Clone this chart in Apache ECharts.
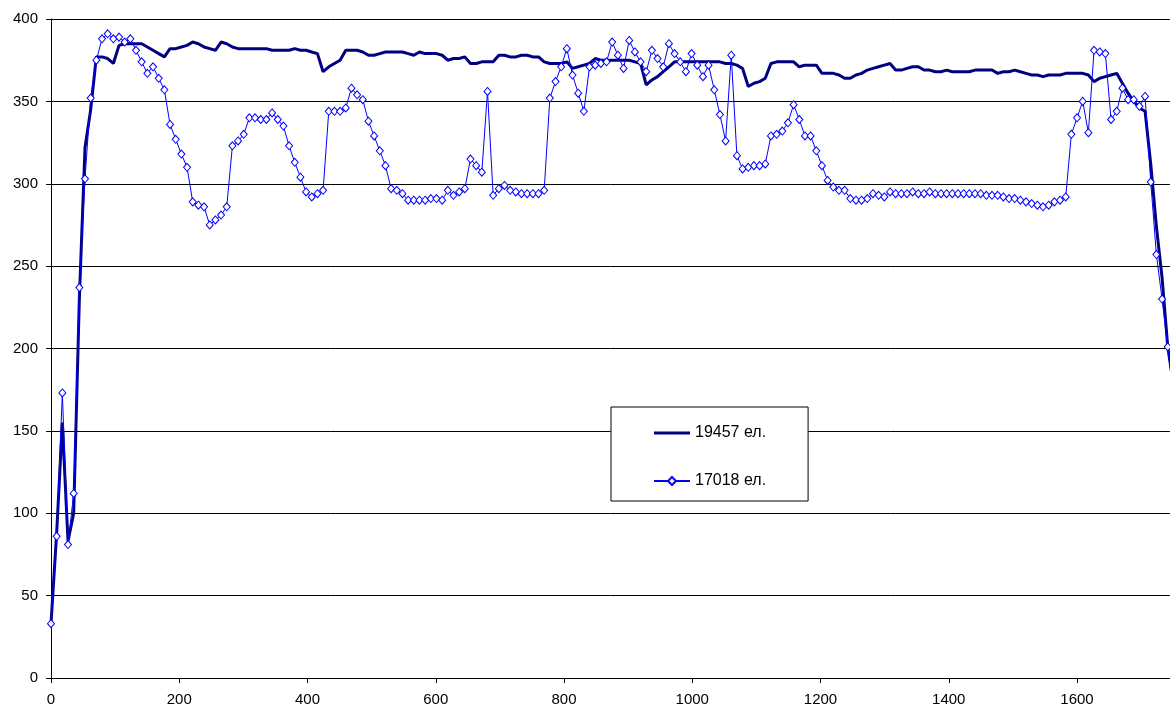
<!DOCTYPE html>
<html>
<head>
<meta charset="utf-8">
<script src="https://cdn.jsdelivr.net/npm/echarts@6/dist/echarts.min.js"></script>
<style>
    html, body { margin: 0; padding: 0; background: #fff; }
    #chart { width: 1170px; height: 709px; }
</style>
</head>
<body>
<div id="chart"></div>
<script>
// точки снимались через равный шаг по оси X
const stepX = 8.84;

const xTicks = [0, 200, 400, 600, 800, 1000, 1200, 1400, 1600];
const yTicks = [0, 50, 100, 150, 200, 250, 300, 350, 400];

const names = ['19457 ел.', '17018 ел.'];

// 19457 ел.
const series19457 = [
    33, 88, 155, 83, 100, 230, 322, 345, 377, 377,
    376, 373, 384, 385, 385, 385, 385, 383, 381, 379,
    377, 382, 382, 383, 384, 386, 385, 383, 382, 381,
    386, 385, 383, 382, 382, 382, 382, 382, 382, 381,
    381, 381, 381, 382, 381, 381, 380, 379, 368, 371,
    373, 375, 381, 381, 381, 380, 378, 378, 379, 380,
    380, 380, 380, 379, 378, 380, 379, 379, 379, 378,
    375, 376, 376, 377, 373, 373, 374, 374, 374, 378,
    378, 377, 377, 378, 378, 377, 377, 374, 373, 373,
    373, 374, 370, 371, 372, 373, 376, 375, 375, 375,
    375, 375, 375, 374, 373, 360, 363, 365, 368, 371,
    374, 374, 374, 374, 374, 374, 374, 374, 374, 373,
    373, 372, 370, 359, 361, 362, 364, 373, 374, 374,
    374, 374, 371, 372, 372, 372, 367, 367, 367, 366,
    364, 364, 366, 367, 369, 370, 371, 372, 373, 369,
    369, 370, 371, 371, 369, 369, 368, 368, 369, 368,
    368, 368, 368, 369, 369, 369, 369, 367, 368, 368,
    369, 368, 367, 366, 366, 365, 366, 366, 366, 367,
    367, 367, 367, 366, 362, 364, 365, 366, 367, 361,
    355, 350, 346, 344, 312, 274, 243, 201, 178
];

// 17018 ел.
const series17018 = [
    33, 86, 173, 81, 112, 237, 303, 352, 375, 388,
    391, 388, 389, 386, 388, 381, 374, 367, 371, 364,
    357, 336, 327, 318, 310, 289, 287, 286, 275, 278,
    281, 286, 323, 326, 330, 340, 340, 339, 339, 343,
    339, 335, 323, 313, 304, 295, 292, 294, 296, 344,
    344, 344, 346, 358, 354, 351, 338, 329, 320, 311,
    297, 296, 294, 290, 290, 290, 290, 291, 291, 290,
    296, 293, 295, 297, 315, 311, 307, 356, 293, 297,
    299, 296, 295, 294, 294, 294, 294, 296, 352, 362,
    371, 382, 366, 355, 344, 371, 372, 373, 374, 386,
    378, 370, 387, 380, 374, 368, 381, 376, 371, 385,
    379, 374, 368, 379, 372, 365, 372, 357, 342, 326,
    378, 317, 309, 310, 311, 311, 312, 329, 330, 332,
    337, 348, 339, 329, 329, 320, 311, 302, 298, 296,
    296, 291, 290, 290, 291, 294, 293, 292, 295, 294,
    294, 294, 295, 294, 294, 295, 294, 294, 294, 294,
    294, 294, 294, 294, 294, 293, 293, 293, 292, 291,
    291, 290, 289, 288, 287, 286, 287, 289, 290, 292,
    330, 340, 350, 331, 381, 380, 379, 339, 344, 358,
    351, 351, 347, 353, 301, 257, 230, 201, 172
];

const toPairs = arr => arr.map((v, i) => [i * stepX, v]);

const chart = echarts.init(document.getElementById('chart'));

const option = {
    animation: false,
    backgroundColor: '#fff',
    textStyle: {
        fontFamily: '"Liberation Sans", Arial, sans-serif'
    },
    grid: {
        left: 51,
        top: 19,
        right: 0,
        bottom: 31
    },
    legend: {
        orient: 'vertical',
        left: 611,
        top: 407,
        backgroundColor: '#fff',
        borderColor: '#000',
        borderWidth: 1,
        borderRadius: 0,
        padding: [18, 42, 12, 42],
        itemWidth: 36,
        itemHeight: 10,
        itemGap: 32,
        textStyle: {
            fontSize: 16,
            color: '#000'
        },
        data: [
            // толстая линия без маркера
            {name: names[0], icon: 'path://M0,0H36V3H0Z'},
            {name: names[1]}
        ]
    },
    xAxis: {
        type: 'value',
        min: xTicks[0],
        max: 1745,
        interval: 200,
        axisLine: {
            lineStyle: {color: '#000', width: 1}
        },
        axisTick: {
            show: true,
            length: 5,
            lineStyle: {color: '#000'}
        },
        axisLabel: {
            color: '#000',
            fontSize: 15,
            margin: 14,
            showMaxLabel: false,
            formatter: v => String(v)
        },
        splitLine: {show: false}
    },
    yAxis: {
        type: 'value',
        min: yTicks[0],
        max: yTicks[yTicks.length - 1],
        interval: 50,
        axisLine: {
            show: true,
            lineStyle: {color: '#000', width: 1}
        },
        axisTick: {
            show: true,
            length: 5,
            lineStyle: {color: '#000'}
        },
        axisLabel: {
            color: '#000',
            fontSize: 15,
            margin: 13,
            formatter: v => String(v)
        },
        splitLine: {
            show: true,
            lineStyle: {color: '#000', width: 1}
        }
    },
    series: [
        {
            name: names[0],
            type: 'line',
            symbol: 'none',
            color: '#000080',
            lineStyle: {color: '#000080', width: 3},
            z: 2,
            data: toPairs(series19457)
        },
        {
            name: names[1],
            type: 'line',
            symbol: 'diamond',
            symbolSize: [7, 8],
            showSymbol: true,
            showAllSymbol: true,
            color: '#0000ff',
            itemStyle: {color: '#fff', borderColor: '#0000ff', borderWidth: 1},
            lineStyle: {color: '#0000ff', width: 1},
            z: 3,
            data: toPairs(series17018)
        }
    ]
};

chart.setOption(option);
</script>
</body>
</html>
